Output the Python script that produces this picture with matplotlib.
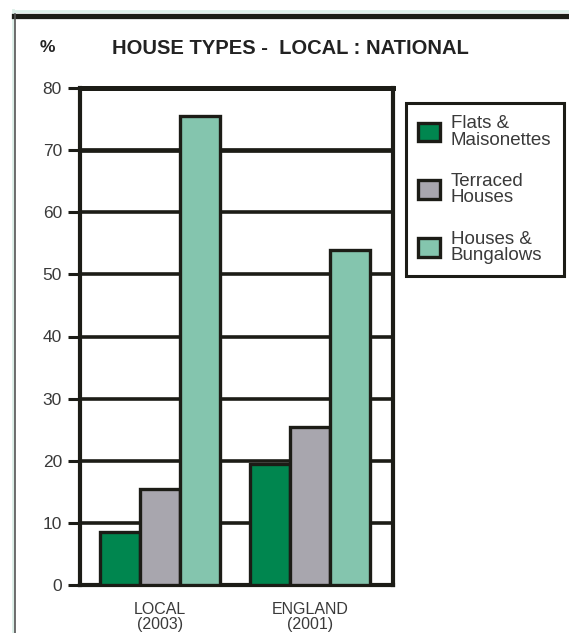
import matplotlib
matplotlib.use("Agg")
import matplotlib.pyplot as plt
from matplotlib.lines import Line2D
import numpy as np

plt.rcParams['font.family'] = ['Liberation Sans', 'DejaVu Sans']

# Data
groups = ["LOCAL\n(2003)", "ENGLAND\n(2001)"]
series = ["Flats &\nMaisonettes", "Terraced\nHouses", "Houses &\nBungalows"]
values = {
    "Flats &\nMaisonettes": [8.5, 19.5],
    "Terraced\nHouses": [15.5, 25.5],
    "Houses &\nBungalows": [75.5, 54.0],
}
colors = ["#00864f", "#a8a6ae", "#84c5ae"]
yticks = [0, 10, 20, 30, 40, 50, 60, 70, 80]

INK = "#1c1c16"
TEXT = "#3a3a3a"

fig = plt.figure(figsize=(5.69, 6.33), dpi=100)
ax = fig.add_axes([80 / 569, 1 - 585 / 633, 313 / 569, 497 / 633])

group_centers = np.array([2.0, 5.75])
width = 1.0
handles = []
for i, (name, col) in enumerate(zip(series, colors)):
    h = ax.bar(group_centers + (i - 1) * width, values[name], width=width,
               color=col, edgecolor=INK, linewidth=2.4, zorder=3, label=name)
    handles.append(h)

# horizontal rules behind the bars
for t in yticks[1:-1]:
    ax.axhline(t, color=INK, lw=3.4 if t == 70 else 2.6, zorder=1)

ax.set_xlim(0, 7.825)
ax.set_ylim(0, 80)
ax.set_yticks(yticks)
ax.set_yticklabels([str(t) for t in yticks])
ax.set_xticks(group_centers)
ax.set_xticklabels(groups)

for s in ax.spines.values():
    s.set_color(INK)
    s.set_linewidth(3.0)
ax.spines['top'].set_linewidth(3.6)

ax.tick_params(axis='y', direction='out', length=9, width=2.2, color=INK,
               labelsize=12.5, labelcolor=TEXT, pad=4)
ax.tick_params(axis='x', length=0, labelsize=11.5, labelcolor=TEXT, pad=12)
for lbl in ax.get_xticklabels():
    lbl.set_linespacing(1.05)

# title and unit
fig.text(290 / 569, 1 - 48 / 633, "HOUSE TYPES -  LOCAL : NATIONAL",
         ha='center', va='center', fontsize=14.5, fontweight='bold', color="#222222")
fig.text(47 / 569, 1 - 48 / 633, "%", ha='center', va='center',
         fontsize=12.5, fontweight='bold', color="#222222")

# legend
leg = fig.legend(handles=handles, labels=series, loc='upper left',
                 bbox_to_anchor=(406 / 569, 1 - 103 / 633),
                 frameon=True, fancybox=False, framealpha=1.0, fontsize=13.5,
                 handlelength=1.15, handleheight=1.15, handletextpad=0.6,
                 labelspacing=1.3, borderpad=0.65, borderaxespad=0)
leg.get_frame().set_edgecolor(INK)
leg.get_frame().set_linewidth(2.2)
for t in leg.get_texts():
    t.set_color(TEXT)
    t.set_linespacing(0.95)

# page frame
fig.add_artist(Line2D([14 / 569, 1], [1 - 10.5 / 633] * 2, color="#dcefe8", lw=2.0,
                      transform=fig.transFigure))
fig.add_artist(Line2D([12.5 / 569] * 2, [0, 1 - 10 / 633], color="#dcefe8", lw=2.0,
                      transform=fig.transFigure))
fig.add_artist(Line2D([14 / 569, 1], [1 - 15.5 / 633] * 2, color=INK, lw=3.8,
                      transform=fig.transFigure))
fig.add_artist(Line2D([15 / 569] * 2, [0, 1 - 14 / 633], color="#555555", lw=1.2,
                      transform=fig.transFigure))

fig.savefig("out.png", dpi=100)
